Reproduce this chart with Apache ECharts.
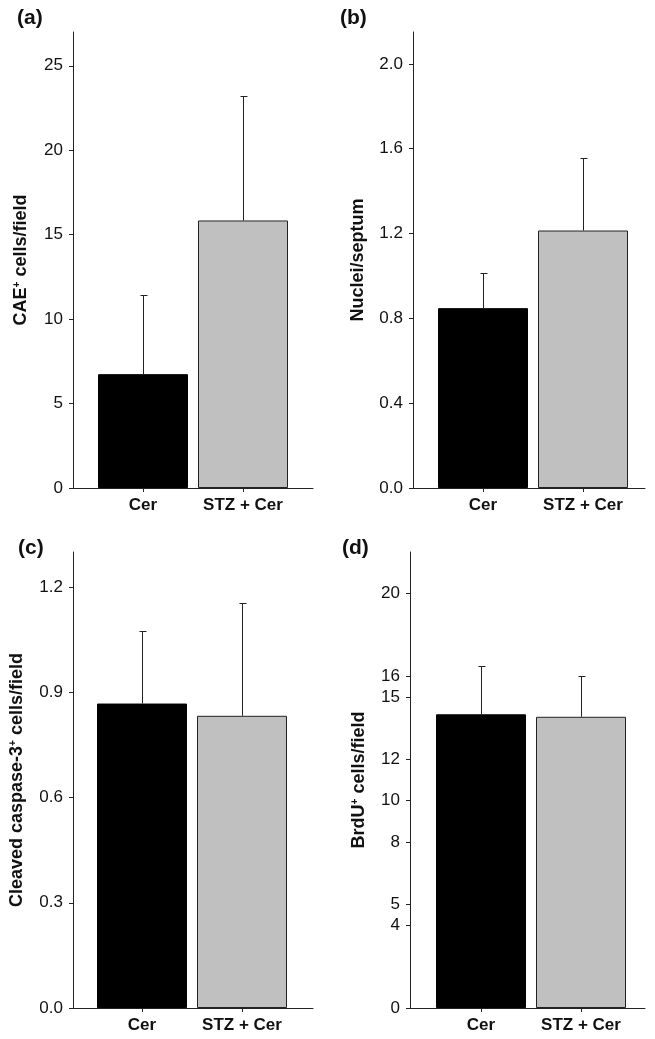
<!DOCTYPE html>
<html>
<head>
<meta charset="utf-8">
<script src="https://cdn.jsdelivr.net/npm/echarts@6/dist/echarts.min.js"></script>
<style>
html,body{margin:0;padding:0;background:#fff;}
#chart{width:655px;height:1039px;}
</style>
</head>
<body>
<div id="chart"></div>
<script>
// ---- data ----
const categories = ['Cer', 'STZ + Cer'];
const aMeans = [6.74, 15.84];
const aSD = [4.66, 7.36];
const bMeans = [0.848, 1.214];
const bSD = [0.165, 0.34];
const cMeans = [0.868, 0.833];
const cSD = [0.207, 0.322];
const dMeans = [14.17, 14.05];
const dSD = [2.33, 1.98];
const aTicks = [0, 5, 10, 15, 20, 25];
const bTicks = [0, 0.4, 0.8, 1.2, 1.6, 2.0];
const cTicks = [0, 0.3, 0.6, 0.9, 1.2];
const dTicks = [0, 4, 5, 8, 10, 12, 15, 16, 20];
const panelLabels = ['(a)', '(b)', '(c)', '(d)'];
const yNames = ['CAE{sup|+} cells/field', 'Nuclei/septum', 'Cleaved caspase-3{sup|+} cells/field', 'BrdU{sup|+} cells/field'];

// ---- layout / style ----
const FONT = '"Liberation Sans", Arial, Helvetica, sans-serif';
const panels = [
  {means: aMeans, sd: aSD, ticks: aTicks, max: 27, dec: 0, axisX: 73, axisW: 240, barsX: 93, top: 32, nameGap: 43, lx: 17, ly: 8},
  {means: bMeans, sd: bSD, ticks: bTicks, max: 2.15, dec: 1, axisX: 413, axisW: 232, barsX: 433, top: 32, nameGap: 46, lx: 340, ly: 8},
  {means: cMeans, sd: cSD, ticks: cTicks, max: 1.3, dec: 1, axisX: 73, axisW: 240, barsX: 92, top: 552, nameGap: 47, lx: 18, ly: 538},
  {means: dMeans, sd: dSD, ticks: dTicks, max: 22, dec: 0, axisX: 410, axisW: 235, barsX: 431, top: 552, nameGap: 42, lx: 342, ly: 538}
];
const H = 456;
const barColors = [
  {color: '#000000', borderColor: '#000000', borderWidth: 1},
  {color: '#c0c0c0', borderColor: '#222222', borderWidth: 1}
];

const grid = [], xAxis = [], yAxis = [], series = [], title = [];
panels.forEach((p, i) => {
  const gFrame = grid.length;
  grid.push({left: p.axisX, width: p.axisW, top: p.top, height: H});
  const gBars = grid.length;
  grid.push({left: p.barsX, width: 200, top: p.top, height: H});

  xAxis.push({type: 'value', gridIndex: gFrame, min: 0, max: 1,
    axisLine: {show: true, onZero: false, lineStyle: {color: '#222', width: 1}},
    axisTick: {show: false}, axisLabel: {show: false}, splitLine: {show: false}});
  xAxis.push({type: 'category', gridIndex: gBars, data: categories,
    axisLine: {show: false},
    axisTick: {show: true, alignWithLabel: true, length: 4, lineStyle: {color: '#222'}},
    axisLabel: {interval: 0, hideOverlap: false, margin: 9, fontFamily: FONT, fontWeight: 'bold', fontSize: 17, color: '#111'},
    splitLine: {show: false}});

  yAxis.push({type: 'value', gridIndex: gFrame, min: 0, max: p.max,
    name: yNames[i], nameLocation: 'middle', nameRotate: 90, nameGap: p.nameGap,
    nameTextStyle: {fontFamily: FONT, fontWeight: 'bold', fontSize: 18, color: '#111',
      rich: {sup: {fontFamily: FONT, fontWeight: 'bold', fontSize: 10, color: '#111', verticalAlign: 'top', padding: [0, 0, 8, 0]}}},
    axisLine: {show: true, lineStyle: {color: '#222', width: 1}},
    axisTick: {show: true, length: 4, customValues: p.ticks, lineStyle: {color: '#222'}},
    axisLabel: {customValues: p.ticks, margin: 10, fontFamily: FONT, fontSize: 17, color: '#111',
      formatter: v => Number(v).toFixed(p.dec)},
    splitLine: {show: false}});
  yAxis.push({type: 'value', gridIndex: gBars, min: 0, max: p.max, show: false, splitLine: {show: false}});

  series.push({type: 'bar', xAxisIndex: gBars, yAxisIndex: gBars, barWidth: 90,
    data: p.means.map((m, k) => ({value: m, itemStyle: barColors[k]})), z: 2, silent: true});
  series.push({type: 'custom', xAxisIndex: gBars, yAxisIndex: gBars, z: 3, silent: true,
    data: p.means.map((m, k) => [k, m, m + p.sd[k]]),
    encode: {x: 0, y: [1, 2]},
    renderItem: (params, api) => {
      const x = Math.round(api.coord([api.value(0), 0])[0]) + 0.5;
      const yB = api.coord([api.value(0), api.value(1)])[1];
      const yT = Math.round(api.coord([api.value(0), api.value(2)])[1]) + 0.5;
      return {type: 'group', children: [
        {type: 'line', shape: {x1: x, y1: yB, x2: x, y2: yT}, style: {stroke: '#222', lineWidth: 1}},
        {type: 'line', shape: {x1: x - 3, y1: yT, x2: x + 4, y2: yT}, style: {stroke: '#222', lineWidth: 1}}
      ]};
    }});

  title.push({text: panelLabels[i], left: p.lx, top: p.ly, padding: 0,
    textStyle: {fontFamily: FONT, fontWeight: 'bold', fontSize: 21, color: '#111'}});
});

const chart = echarts.init(document.getElementById('chart'), null, {renderer: 'canvas'});
chart.setOption({backgroundColor: '#ffffff', animation: false, title, grid, xAxis, yAxis, series});
</script>
</body>
</html>
